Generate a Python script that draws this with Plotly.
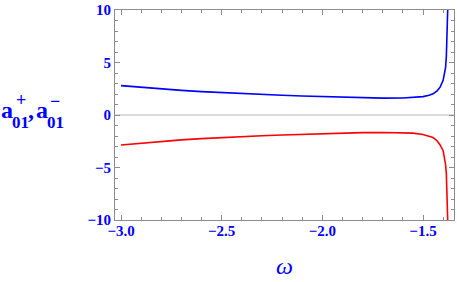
import plotly.graph_objects as go

omega_blue = [-3.0, -2.9, -2.8, -2.7, -2.6, -2.5, -2.4, -2.3, -2.2, -2.1, -2.0, -1.9, -1.8, -1.7,
              -1.6, -1.55, -1.5, -1.47, -1.45, -1.43, -1.415, -1.40, -1.392, -1.388, -1.384,
              -1.381, -1.378, -1.376, -1.375]
a_plus = [2.80, 2.63, 2.48, 2.35, 2.23, 2.13, 2.04, 1.96, 1.88, 1.81, 1.75, 1.69, 1.64, 1.61,
          1.62, 1.66, 1.75, 1.88, 2.02, 2.30, 2.65, 3.3, 3.95, 4.5, 5.6,
          7.0, 8.8, 10.2, 11.5]
omega_red = omega_blue
a_minus = [-2.85, -2.67, -2.51, -2.37, -2.25, -2.14, -2.05, -1.97, -1.90, -1.83, -1.77, -1.72, -1.68, -1.66,
           -1.68, -1.73, -1.85, -2.0, -2.15, -2.45, -2.85, -3.4, -4.1, -4.7, -5.6,
           -7.0, -8.8, -10.2, -11.5]

x_ticks = [-3.0, -2.5, -2.0, -1.5]
x_labels = ["\u22123.0", "\u22122.5", "\u22122.0", "\u22121.5"]
y_ticks = [-10, -5, 0, 5, 10]
y_labels = ["\u221210", "\u22125", "0", "5", "10"]

SERIF = "Liberation Serif, Times New Roman, serif"
BLUE = "#0000ff"
FRAME = "#8c8c8c"

fig = go.Figure()
fig.add_trace(go.Scatter(x=[-3.03, -1.346], y=[0, 0], mode="lines",
                         line=dict(color="#b8b8b8", width=1), hoverinfo="skip", showlegend=False))
fig.add_trace(go.Scatter(x=omega_blue, y=a_plus, mode="lines",
                         line=dict(color="#0000ff", width=1.6), showlegend=False))
fig.add_trace(go.Scatter(x=omega_red, y=a_minus, mode="lines",
                         line=dict(color="#ff0000", width=1.6), showlegend=False))

axis_common = dict(showgrid=False, zeroline=False, showline=True, linecolor=FRAME, linewidth=1,
                   mirror="allticks", ticks="inside", ticklen=5, tickcolor=FRAME, tickwidth=1,
                   automargin=False,
                   tickfont=dict(family=SERIF, size=15, color=BLUE))

fig.update_xaxes(range=[-3.03, -1.346], tickvals=x_ticks, ticktext=[f"<b>{t}</b>" for t in x_labels],
                 ticklabelstandoff=-3,
                 minor=dict(dtick=0.1, tick0=-3.0, ticks="inside", ticklen=3, tickcolor=FRAME),
                 **axis_common)
fig.update_yaxes(range=[-10, 10], tickvals=y_ticks, ticktext=[f"<b>{t}</b>" for t in y_labels],
                 minor=dict(dtick=1, tick0=0, ticks="inside", ticklen=3, tickcolor=FRAME),
                 **axis_common)

def ann(text, px, py, size):
    fig.add_annotation(text=text, xref="paper", yref="paper", x=0, y=0.5,
                       xshift=px - 115, yshift=115 - py, xanchor="left", yanchor="middle",
                       showarrow=False, font=dict(family=SERIF, size=size, color=BLUE))

ann("<b>a</b>", -1, 110, 24)
ann("<b>01</b>", 10, 122, 17)
ann("<b>+</b>", 14, 100, 18)
ann("<b>,</b>", 26, 110, 24)
ann("<b>a</b>", 34, 110, 24)
ann("<b>01</b>", 45, 122, 17)
ann("<b>\u2212</b>", 48, 101, 18)

fig.add_annotation(text="<i>\u03c9</i>", xref="paper", yref="paper", x=0, y=0,
                   xshift=284 - 115, yshift=220 - 266, xanchor="center", yanchor="middle",
                   showarrow=False, font=dict(family=SERIF, size=24, color=BLUE))

fig.update_layout(width=457, height=282, margin=dict(l=115, r=3, t=10, b=62),
                  paper_bgcolor="white", plot_bgcolor="white")

fig.write_html("out.html", config={"displayModeBar": False},
               post_script="document.body.style.margin='0';document.body.style.overflow='hidden';")
